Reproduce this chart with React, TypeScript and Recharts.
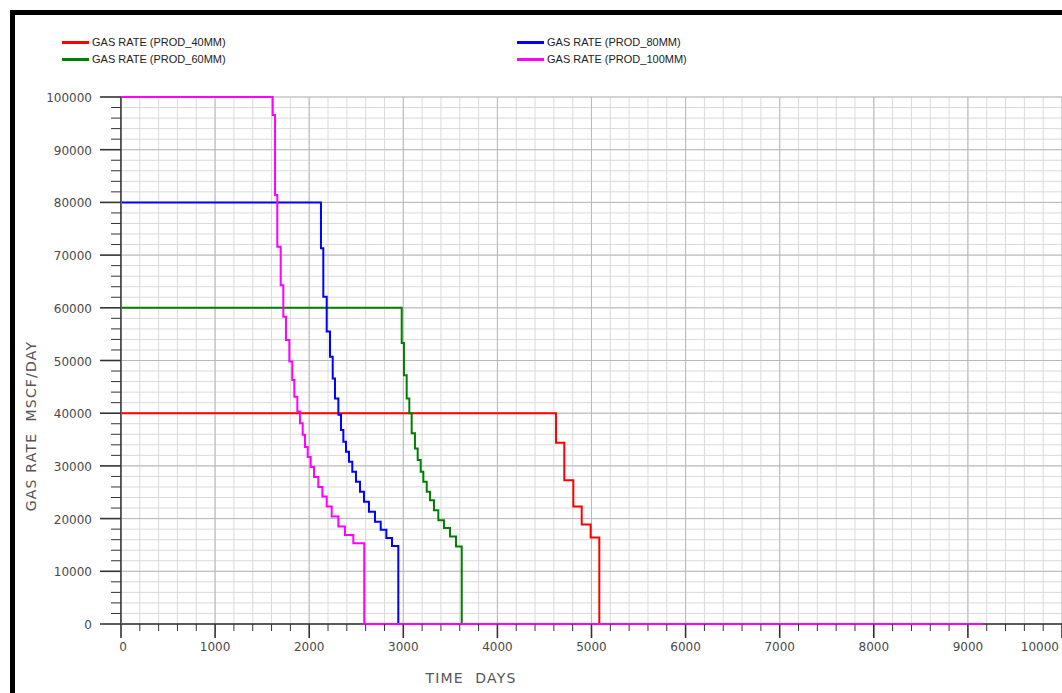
import React from "react";
import { CartesianGrid, Label, Line, LineChart, XAxis, YAxis } from "recharts";

// step start day / gas rate (MSCF/DAY) for each producer case
const prod40Days = [0, 0, 4623, 4711, 4807, 4896, 4991, 5083, 9160];
const prod40Rate = [0, 40000, 34400, 27300, 22300, 18900, 16400, 0, 0];

const prod60Days = [
  0, 0, 2983, 3007, 3036, 3064, 3089, 3124, 3153, 3185, 3213, 3249, 3284, 3326, 3372, 3432, 3496, 3560, 3621, 9160
];
const prod60Rate = [
  0, 60000, 53300, 47200, 42800, 40000, 36200, 33300, 31100, 28900, 27000, 25100, 23500, 21600, 19700, 18200, 16600,
  14700, 0, 0
];

const prod80Days = [
  0, 0, 2125, 2150, 2186, 2221, 2250, 2274, 2310, 2338, 2363, 2391, 2423, 2458, 2497, 2540, 2582, 2635, 2699, 2760,
  2820, 2880, 2947, 9160
];
const prod80Rate = [
  0, 80000, 71300, 62100, 55500, 50700, 46600, 42800, 39700, 36800, 34600, 32700, 30800, 28900, 27000, 25100, 23200,
  21300, 19400, 17900, 16300, 14800, 0, 0
];

const prod100Days = [
  0, 0, 1612, 1637, 1661, 1697, 1725, 1753, 1789, 1820, 1842, 1874, 1902, 1931, 1955, 1984, 2016, 2051, 2097, 2140,
  2186, 2239, 2310, 2380, 2469, 2585, 9160
];
const prod100Rate = [
  0, 100000, 96600, 81400, 71600, 64300, 58300, 53900, 49800, 46300, 43100, 40300, 38100, 35900, 33600, 31700, 29800,
  27900, 26000, 24200, 22300, 20400, 18500, 16900, 15300, 0, 0
];

const majorXTicks = [0, 1000, 2000, 3000, 4000, 5000, 6000, 7000, 8000, 9000, 10000];
const majorYTicks = [0, 10000, 20000, 30000, 40000, 50000, 60000, 70000, 80000, 90000, 100000];

// minor ticks: 5 per major on x, 5 per major on y
const xTicks = majorXTicks.flatMap((v, i) => (i === 0 ? [v] : [1, 2, 3, 4, 5].map((k) => v - 1000 + k * 200)));
const yTicks = majorYTicks.flatMap((v, i) => (i === 0 ? [v] : [1, 2, 3, 4, 5].map((k) => v - 10000 + k * 2000)));

const zip = (days: number[], rate: number[]) => days.map((t, i) => ({ t, q: rate[i] }));

const series = [
  { name: "GAS RATE (PROD_40MM)", color: "#ff0000", data: zip(prod40Days, prod40Rate) },
  { name: "GAS RATE (PROD_60MM)", color: "#008000", data: zip(prod60Days, prod60Rate) },
  { name: "GAS RATE (PROD_80MM)", color: "#0000ff", data: zip(prod80Days, prod80Rate) },
  { name: "GAS RATE (PROD_100MM)", color: "#ff00ff", data: zip(prod100Days, prod100Rate) }
];

const tickFont = { fontFamily: "DejaVu Sans", fontSize: 12, fill: "#4a4a4a" };

const XTick = (props: any) => {
  const { x, y, payload } = props;
  const v = payload.value as number;
  const major = v % 1000 === 0;
  const last = v === 10000;
  return (
    <g>
      <line x1={x} y1={y} x2={x} y2={y + (major ? 14 : 7)} stroke="#333" strokeWidth={major ? 1.6 : 1} />
      {major && (
        <text x={last ? x - 3 : v === 0 ? x + 2 : x} y={y + 27} textAnchor={last ? "end" : "middle"} {...tickFont}>
          {v}
        </text>
      )}
    </g>
  );
};

const YTick = (props: any) => {
  const { x, y, payload } = props;
  const v = payload.value as number;
  const major = v % 10000 === 0;
  return (
    <g>
      <line x1={x} y1={y} x2={x - (major ? 21 : 10)} y2={y} stroke="#333" strokeWidth={major ? 1.6 : 1} />
      {major && (
        <text x={x - 29} y={y + 5} textAnchor="end" {...tickFont}>
          {v}
        </text>
      )}
    </g>
  );
};

const titleFont = { fontFamily: "DejaVu Sans", fontSize: 14, fill: "#555", letterSpacing: 1.2 };

export default function App() {
  return (
    <div
      style={{
        position: "absolute",
        left: 0,
        top: 0,
        width: 1062,
        height: 693,
        overflow: "hidden",
        background: "#fff"
      }}
    >
      <LineChart width={1062} height={693} margin={{ top: 97, right: 0, bottom: 29, left: 0 }}>
        <CartesianGrid stroke="#dadada" strokeWidth={1} />
        <CartesianGrid stroke="#b9b9b9" strokeWidth={1} verticalValues={majorXTicks} horizontalValues={majorYTicks} />
        <XAxis
          type="number"
          dataKey="t"
          domain={[0, 10000]}
          ticks={xTicks}
          interval={0}
          height={40}
          tickSize={0}
          tickMargin={0}
          tick={<XTick />}
          axisLine={{ stroke: "#333", strokeWidth: 1.6 }}
          allowDataOverflow
        >
          <Label
            content={() => (
              <text x={471} y={683} textAnchor="middle" {...titleFont}>
                TIME{"\u00a0\u00a0"}DAYS
              </text>
            )}
          />
        </XAxis>
        <YAxis
          type="number"
          domain={[0, 100000]}
          ticks={yTicks}
          interval={0}
          width={121}
          tickSize={0}
          tickMargin={0}
          tick={<YTick />}
          axisLine={{ stroke: "#333", strokeWidth: 1.6 }}
        >
          <Label
            content={() => (
              <text x={36} y={426} transform="rotate(-90 36 426)" textAnchor="middle" {...titleFont}>
                GAS RATE{"\u00a0\u00a0"}MSCF/DAY
              </text>
            )}
          />
        </YAxis>
        {series.map((s) => (
          <Line
            key={s.name}
            data={s.data}
            dataKey="q"
            name={s.name}
            type="stepAfter"
            stroke={s.color}
            strokeWidth={2}
            dot={false}
            activeDot={false}
            isAnimationActive={false}
            zIndex={600}
          />
        ))}
      </LineChart>

      {series.map((s, i) => {
        const col = Math.floor(i / 2);
        const row = i % 2;
        return (
          <div
            key={s.name}
            style={{
              position: "absolute",
              left: col === 0 ? 62 : 517,
              top: row === 0 ? 35 : 52,
              display: "flex",
              alignItems: "center",
              height: 14
            }}
          >
            <div style={{ width: 27, height: 3, background: s.color, marginRight: 3 }} />
            <span style={{ fontFamily: "Liberation Sans", fontSize: 11, color: "#222", whiteSpace: "nowrap" }}>
              {s.name}
            </span>
          </div>
        );
      })}

      <div
        style={{
          position: "absolute",
          left: 10,
          top: 10,
          width: 1100,
          height: 720,
          borderTop: "5px solid #000",
          borderLeft: "5px solid #000",
          boxSizing: "border-box",
          pointerEvents: "none"
        }}
      />
    </div>
  );
}
